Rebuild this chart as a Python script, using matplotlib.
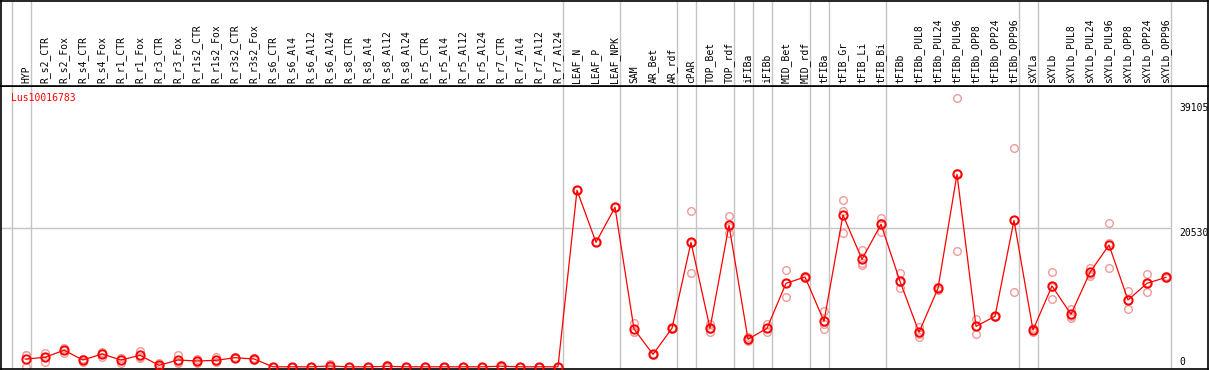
import matplotlib
matplotlib.use('Agg')
import matplotlib.pyplot as plt

gene = 'Lus10016783'

samples = ['HYP', 'R_s2_CTR', 'R_s2_Fox', 'R_s4_CTR', 'R_s4_Fox', 'R_r1_CTR', 'R_r1_Fox',
           'R_r3_CTR', 'R_r3_Fox', 'R_r1s2_CTR', 'R_r1s2_Fox', 'R_r3s2_CTR', 'R_r3s2_Fox',
           'R_s6_CTR', 'R_s6_Al4', 'R_s6_Al12', 'R_s6_Al24', 'R_s8_CTR', 'R_s8_Al4',
           'R_s8_Al12', 'R_s8_Al24', 'R_r5_CTR', 'R_r5_Al4', 'R_r5_Al12', 'R_r5_Al24',
           'R_r7_CTR', 'R_r7_Al4', 'R_r7_Al12', 'R_r7_Al24', 'LEAF_N', 'LEAF_P', 'LEAF_NPK',
           'SAM', 'AR_Bet', 'AR_rdf', 'cPAR', 'TOP_Bet', 'TOP_rdf', 'iFIBa', 'iFIBb',
           'MID_Bet', 'MID_rdf', 'tFIBa', 'tFIB_Gr', 'tFIB_Li', 'tFIB_Bi', 'tFIBb',
           'tFIBb_PUL8', 'tFIBb_PUL24', 'tFIBb_PUL96', 'tFIBb_OPP8', 'tFIBb_OPP24',
           'tFIBb_OPP96', 'sXYLa', 'sXYLb', 'sXYLb_PUL8', 'sXYLb_PUL24', 'sXYLb_PUL96',
           'sXYLb_OPP8', 'sXYLb_OPP24', 'sXYLb_OPP96']

means = [1150, 1410, 2450, 1010, 1900, 1010, 1700, 220, 1010, 860, 960, 1350, 1160,
         0, 0, 0, 120, 0, 0, 70, 0, 0, 0, 0, 0, 90, 0, 0, 0,
         26160, 18450, 23640, 5600, 1850, 5710, 18450, 5710, 20970, 4080, 5710,
         12370, 13310, 6740, 22500, 15930, 21120, 12670, 5110, 11630, 28530, 6000,
         7480, 21710, 5450, 11980, 7780, 14000, 18050, 9900, 12370, 13260]

rep1 = [1750, 2090, 2740, 1200, 2140, 1250, 2400, 500, 1750, 1150, 1500, 1450, 1300,
        0, 0, 0, 360, 0, 0, 210, 0, 0, 0, 0, 0, 270, 0, 0, 0,
        26160, 18450, 23640, 6540, 1900, 5800, 23090, 6350, 22350, 4400, 6300,
        14350, 13500, 8230, 24680, 17310, 22010, 13860, 5940, 11900, 39790, 7080,
        7600, 32380, 5700, 14010, 8620, 14700, 21270, 11230, 13710, 13400]
rep2 = [1700, 1430, 2520, 1120, 2060, 1270, 1400, 160, 770, 880, 720, 1350, 1150,
        0, 0, 0, 0, 0, 0, 0, 0, 0, 0, 0, 0, 0, 0, 0, 0,
        26160, 18450, 23640, 5150, 1850, 5700, 18400, 5600, 20780, 4000, 5700,
        12420, 13300, 6400, 23030, 15400, 21330, 12520, 4930, 11630, 28680, 6100,
        7480, 21710, 5450, 11870, 7220, 13800, 18280, 9950, 12360, 13260]
rep3 = [0, 710, 2090, 710, 1500, 510, 1300, 0, 510, 550, 660, 1250, 1030,
        0, 0, 0, 0, 0, 0, 0, 0, 0, 0, 0, 0, 0, 0, 0, 0,
        26160, 18450, 23640, 5110, 1800, 5630, 13860, 5180, 19790, 3840, 5130,
        10340, 13130, 5600, 19790, 15090, 20020, 11630, 4460, 11360, 17120, 4820,
        7360, 11040, 5200, 10050, 7500, 13500, 14600, 8520, 11040, 13120]

# group separators sit just after these sample indices
group_ends = [-1, 0, 28, 31, 34, 35, 37, 38, 39, 41, 42, 45, 52, 53, 60]
ytick_vals = [39105, 20530, 0]

W, H = 1209, 370
fig = plt.figure(figsize=(W / 100, H / 100), dpi=100)
font = 'DejaVu Sans Mono'

x = list(range(len(samples)))
xlim = ((1 - 26) / 19, (1208 - 26) / 19)
head_bottom = 85.5
plot_bottom = 368.5
ylim = (-(plot_bottom - 366.8) * 148.2, (366.8 - head_bottom) * 148.2)

ax = fig.add_axes([1 / W, (H - plot_bottom) / H, 1207 / W, (plot_bottom - head_bottom) / H])
hx = fig.add_axes([1 / W, (H - head_bottom) / H, 1207 / W, (head_bottom - 0.5) / H])

for a in (ax, hx):
    a.set_xlim(*xlim)
    a.set_xticks([])
    a.set_yticks([])
    for s in a.spines.values():
        s.set_color('black')
        s.set_linewidth(1.2)
    for g in group_ends:
        a.axvline(g + 0.25, color='#c4c4c4', lw=1, zorder=1)

ax.set_ylim(*ylim)
hx.set_ylim(0, 1)

ax.hlines(20530, xlim[0], group_ends[-1] + 0.25, color='#c4c4c4', lw=1, zorder=1)

for r in (rep1, rep2, rep3):
    ax.plot(x, r, ls='none', marker='o', ms=5.5, mfc='none', mec='#f09a9a', mew=1.0, zorder=2)
ax.plot(x, means, color='red', lw=0.9, zorder=3)
ax.plot(x, means, ls='none', marker='o', ms=6, mfc='none', mec='red', mew=1.4, zorder=4)

for i, name in enumerate(samples):
    hx.text(i, 0.03, name, rotation=90, ha='center', va='bottom', fontsize=7,
            family=font, color='black')

ax.text(10 / 1207, 1 - 12 / (plot_bottom - head_bottom), gene, transform=ax.transAxes,
        ha='left', va='center', fontsize=7, family=font, color='red')

xr = (1179 - 26) / 19
ax.text(xr, ytick_vals[0], str(ytick_vals[0]), ha='left', va='top', fontsize=7, family=font)
ax.text(xr, ytick_vals[1], str(ytick_vals[1]), ha='left', va='top', fontsize=7, family=font)
ax.text(xr, ytick_vals[2] + 200, str(ytick_vals[2]), ha='left', va='baseline', fontsize=7, family=font)

fig.savefig('out.png', dpi=100, facecolor='white')
